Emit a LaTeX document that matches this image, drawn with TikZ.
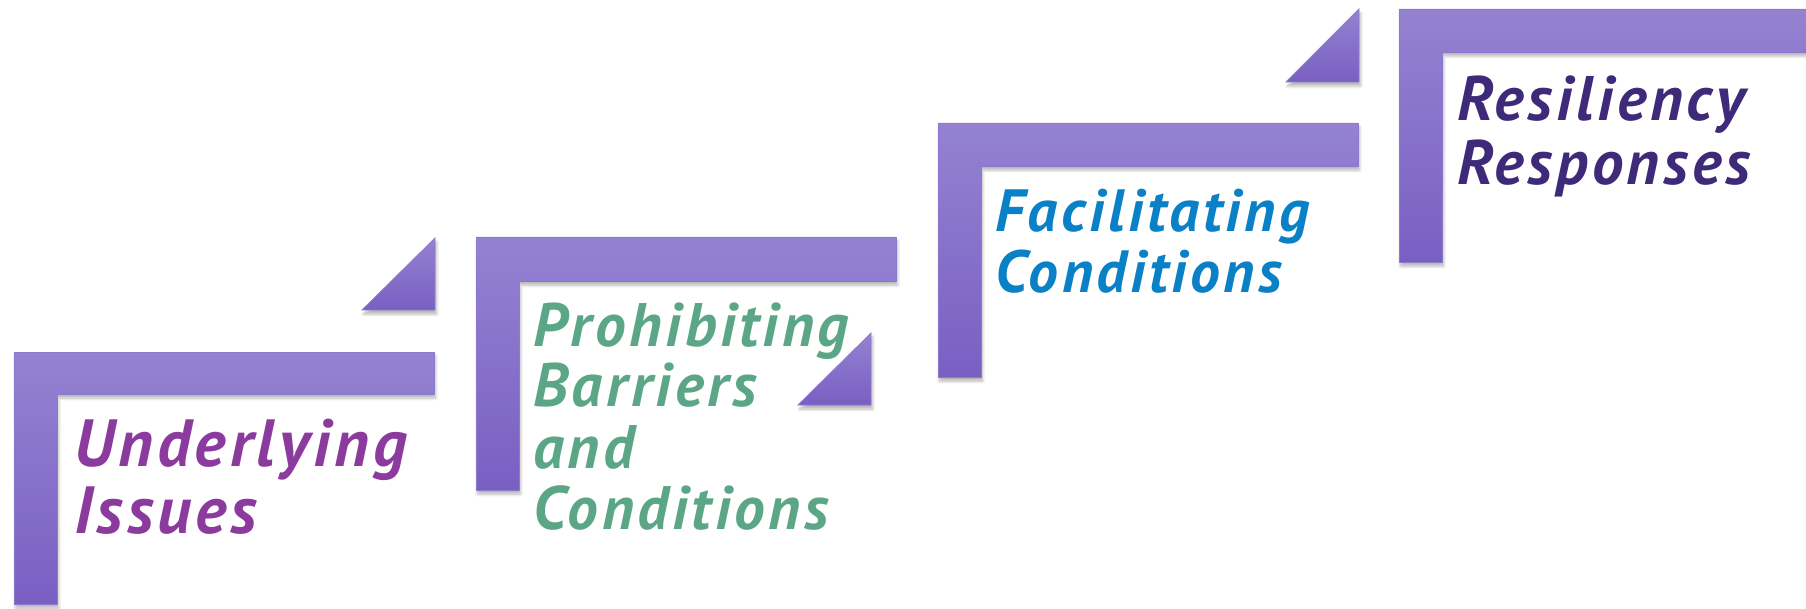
\documentclass[tikz,border=0pt]{standalone}
\usepackage{fontspec}
\setmainfont{PT Sans}
\newfontfamily\labfont[LetterSpace=6]{PT Sans}
\usetikzlibrary{shadows.blur}
\definecolor{barTop}{HTML}{9482D1}
\definecolor{barBot}{HTML}{7A5FC3}
\definecolor{barEdge}{HTML}{8E7ACD}
\definecolor{txtA}{HTML}{8B3A9E}
\definecolor{txtB}{HTML}{5CA688}
\definecolor{txtC}{HTML}{0A80C6}
\definecolor{txtD}{HTML}{3E2A78}
\newcommand{\labsize}[1]{\fontsize{#1}{#1}\selectfont\labfont\bfseries\itshape}
\tikzset{
  stair/.style={top color=barTop, bottom color=barBot, draw=barEdge, line width=0.8pt,
    blur shadow={shadow xshift=1.5pt, shadow yshift=-4pt, shadow blur steps=6, shadow blur radius=3pt, shadow opacity=30}},
  lab/.style={anchor=base west, inner sep=0pt},
}
\begin{document}
\begin{tikzpicture}[x=1pt,y=-1pt]
\useasboundingbox (0,0) rectangle (1806,609);
% L shapes
\path[stair] (14,352) -- (434,352) -- (434,394) -- (57,394) -- (57,604) -- (14,604) -- cycle;
\path[stair] (476,237) -- (896,237) -- (896,281) -- (519,281) -- (519,490) -- (476,490) -- cycle;
\path[stair] (938,123) -- (1358,123) -- (1358,166) -- (981,166) -- (981,377) -- (938,377) -- cycle;
\path[stair] (1399,9) -- (1810,9) -- (1810,52) -- (1442,52) -- (1442,262) -- (1399,262) -- cycle;
% triangles
\path[stair] (362,310) -- (435,310) -- (435,238) -- cycle;
\path[stair] (798,405) -- (871,405) -- (871,333) -- cycle;
\path[stair] (1286,82) -- (1359,82) -- (1359,9) -- cycle;
% labels
\node[lab, text=txtA, font=\labsize{66.7}] (u1) at (74,466.7) {Underlying};
\node[lab, text=txtA, font=\labsize{66.7}] (u2) at (74,533.3) {Issues};
\node[lab, text=txtB, font=\labsize{61.4}] (p1) at (533,346) {Prohibiting};
\node[lab, text=txtB, font=\labsize{61.4}] (p2) at (533,406.7) {Barriers};
\node[lab, text=txtB, font=\labsize{61.4}] (p3) at (533,468) {and};
\node[lab, text=txtB, font=\labsize{61.4}] (p4) at (533,529) {Conditions};
\node[lab, text=txtC, font=\labsize{59.6}] (f1) at (995,231.7) {Facilitating};
\node[lab, text=txtC, font=\labsize{59.6}] (f2) at (995,293) {Conditions};
\node[lab, text=txtD, font=\labsize{62.9}] (r1) at (1457,120.7) {Resiliency};
\node[lab, text=txtD, font=\labsize{62.9}] (r2) at (1457,184.3) {Responses};
\end{tikzpicture}
\end{document}
